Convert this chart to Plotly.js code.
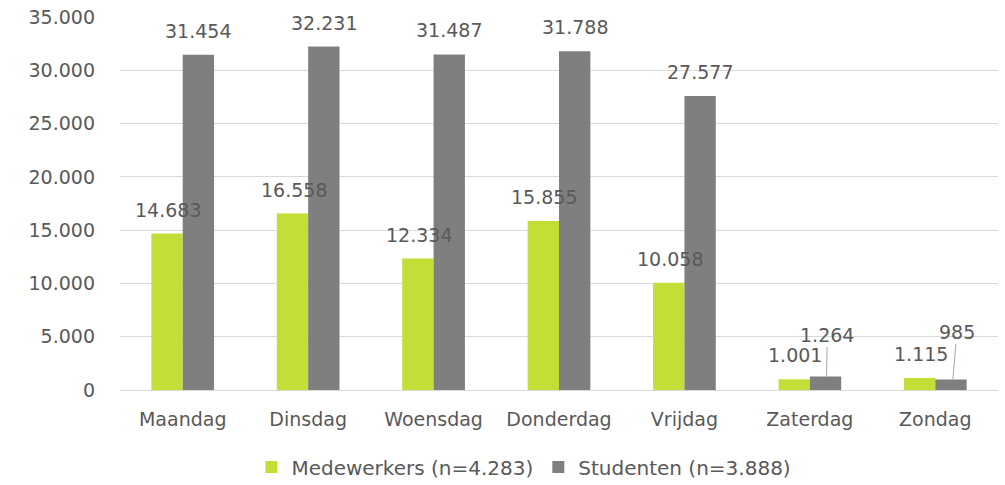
<!DOCTYPE html>
<html><head><meta charset="utf-8">
<script src="https://cdn.plot.ly/plotly-3.0.1.min.js"></script>
<style>body{margin:0;}#chart{width:1005px;height:485px;}</style>
</head><body><div id="chart"></div>
<script>
const days = ['Maandag','Dinsdag','Woensdag','Donderdag','Vrijdag','Zaterdag','Zondag'];
const medewerkers = [14683, 16558, 12334, 15855, 10058, 1001, 1115];
const studenten = [31454, 32231, 31487, 31788, 27577, 1264, 985];
const nameMed = 'Medewerkers (n=4.283)';
const nameStu = 'Studenten (n=3.888)';

const fontFam = '"DejaVu Sans", sans-serif';
const txtColor = '#595959';
const fs = 19;
const fmt = v => v.toLocaleString('de-DE');

const traces = [
  {type:'bar', x:days, y:medewerkers, name:nameMed, marker:{color:'#c5de37'}, hoverinfo:'none'},
  {type:'bar', x:days, y:studenten, name:nameStu, marker:{color:'#7f7f7f'}, hoverinfo:'none'}
];

const shift = 15.6;
const annotations = [];
days.forEach((d,i)=>{
  annotations.push({x:d, y:medewerkers[i], text:fmt(medewerkers[i]), showarrow:false,
    xshift:-shift+1, yshift:24, yanchor:'middle', font:{size:fs,color:txtColor,family:fontFam}});
  if (i < 5) {
    annotations.push({x:d, y:studenten[i], text:fmt(studenten[i]), showarrow:false,
      xshift:shift, yshift:24, yanchor:'middle', font:{size:fs,color:txtColor,family:fontFam}});
  }
});
// leader-line labels
annotations.push({x:days[5], y:studenten[5], text:fmt(studenten[5]), showarrow:true, arrowhead:0,
  arrowwidth:1, arrowcolor:'#a6a6a6', ax:1, ay:-42, xshift:shift+1, standoff:0,
  font:{size:fs,color:txtColor,family:fontFam}});
annotations.push({x:days[6], y:studenten[6], text:fmt(studenten[6]), showarrow:true, arrowhead:0,
  arrowwidth:1, arrowcolor:'#a6a6a6', ax:4, ay:-48, xshift:shift+2, standoff:0,
  font:{size:fs,color:txtColor,family:fontFam}});

const layout = {
  width:1005, height:485,
  margin:{l:120, r:7, t:17, b:95},
  paper_bgcolor:'#ffffff', plot_bgcolor:'#ffffff',
  separators:',.',
  font:{family:fontFam, size:fs, color:txtColor},
  barmode:'group', bargap:0.5, bargroupgap:0,
  xaxis:{type:'category', showgrid:false, zeroline:false, showline:false, ticks:'',
    ticklabelstandoff:16, tickfont:{size:fs,color:txtColor}, fixedrange:true},
  yaxis:{range:[0,35000], dtick:5000, tickformat:',d', showgrid:true, gridcolor:'#d9d9d9',
    gridwidth:1, zeroline:true, zerolinecolor:'#d9d9d9', zerolinewidth:1, showline:false,
    ticks:'', ticklabelstandoff:24, tickfont:{size:fs,color:txtColor}, fixedrange:true},
  showlegend:true,
  legend:{orientation:'h', x:0.46, xanchor:'center', yref:'container', y:0.037, yanchor:'middle',
    font:{size:20,color:txtColor}, itemclick:false, itemdoubleclick:false},
  annotations:annotations
};
Plotly.newPlot('chart', traces, layout, {displayModeBar:false, staticPlot:true});
</script></body></html>
